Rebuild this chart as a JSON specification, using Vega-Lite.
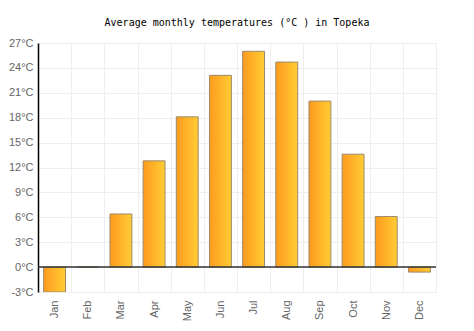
{
  "$schema": "https://vega.github.io/schema/vega-lite/v6.json",
  "width": 398,
  "height": 249,
  "autosize": "none",
  "padding": {"left": 38, "top": 43, "right": 38, "bottom": 39},
  "background": "white",
  "title": {"text": "Average monthly temperatures (°C ) in Topeka", "font": "DejaVu Sans Mono", "fontSize": 10, "fontWeight": "normal", "color": "#000", "offset": 9, "anchor": "middle"},
  "config": {"view": {"stroke": "#eeeeee"}},
  "data": {"values": [
    {"month": "Jan", "temp": -3.0},
    {"month": "Feb", "temp": 0.0},
    {"month": "Mar", "temp": 6.4},
    {"month": "Apr", "temp": 12.8},
    {"month": "May", "temp": 18.1},
    {"month": "Jun", "temp": 23.1},
    {"month": "Jul", "temp": 26.0},
    {"month": "Aug", "temp": 24.7},
    {"month": "Sep", "temp": 20.0},
    {"month": "Oct", "temp": 13.6},
    {"month": "Nov", "temp": 6.1},
    {"month": "Dec", "temp": -0.6}
  ]},
  "layer": [
    {
      "mark": {"type": "bar", "width": {"band": 0.66}, "stroke": "#9c8a6a", "strokeWidth": 1, "clip": true,
        "color": {"gradient": "linear", "x1": 0, "x2": 1, "y1": 0, "y2": 0, "stops": [{"offset": 0, "color": "#ff9a1f"}, {"offset": 1, "color": "#ffcd33"}]}},
      "encoding": {
        "x": {"field": "month", "type": "nominal", "sort": null,
          "scale": {"paddingInner": 0, "paddingOuter": 0},
          "axis": {"title": null, "tickBand": "extent", "ticks": false, "domain": false, "grid": true, "gridColor": "#eeeeee", "labelAngle": -90, "labelOverlap": false, "labelFont": "Liberation Sans", "labelFontSize": 11, "labelColor": "#666", "labelPadding": 8}},
        "y": {"field": "temp", "type": "quantitative",
          "scale": {"domain": [-3, 27], "nice": false, "zero": false},
          "axis": {"title": null, "values": [-3, 0, 3, 6, 9, 12, 15, 18, 21, 24, 27], "tickCount": 11, "labelExpr": "datum.value + '°C'", "labelOverlap": false, "labelFlush": false, "ticks": false, "domainColor": "#000", "domainWidth": 1.5, "gridColor": "#eeeeee", "labelFont": "Liberation Sans", "labelFontSize": 11, "labelColor": "#666", "labelPadding": 5}}
      }
    },
    {
      "data": {"values": [{"y": 0}]},
      "mark": {"type": "rule", "color": "#333", "strokeWidth": 1.5},
      "encoding": {"y": {"field": "y", "type": "quantitative",
          "axis": {"title": null, "values": [-3, 0, 3, 6, 9, 12, 15, 18, 21, 24, 27], "tickCount": 11, "labelExpr": "datum.value + '°C'", "labelOverlap": false, "labelFlush": false, "ticks": false, "domainColor": "#000", "domainWidth": 1.5, "gridColor": "#eeeeee", "labelFont": "Liberation Sans", "labelFontSize": 11, "labelColor": "#666", "labelPadding": 5}}}
    }
  ]
}
